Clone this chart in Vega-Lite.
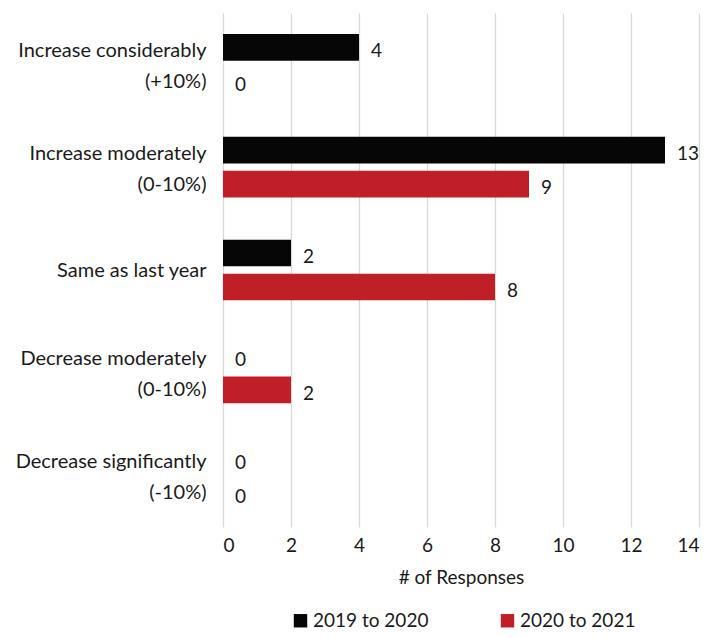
{
  "$schema": "https://vega.github.io/schema/vega-lite/v6.json",
  "width": 476,
  "height": 514,
  "autosize": {"type": "none"},
  "padding": {"left": 223, "top": 13, "right": 23, "bottom": 111},
  "config": {
    "view": {"stroke": null},
    "font": "Lato",
    "axis": {"labelFont": "Lato", "titleFont": "Lato", "labelColor": "#1a1a1a", "titleColor": "#1a1a1a"},
    "legend": {"labelFont": "Lato"}
  },
  "data": {
    "values": [
      {"category": "Increase considerably\n(+10%)", "period": "2019 to 2020", "count": 4},
      {"category": "Increase considerably\n(+10%)", "period": "2020 to 2021", "count": 0},
      {"category": "Increase moderately\n(0-10%)", "period": "2019 to 2020", "count": 13},
      {"category": "Increase moderately\n(0-10%)", "period": "2020 to 2021", "count": 9},
      {"category": "Same as last year", "period": "2019 to 2020", "count": 2},
      {"category": "Same as last year", "period": "2020 to 2021", "count": 8},
      {"category": "Decrease moderately\n(0-10%)", "period": "2019 to 2020", "count": 0},
      {"category": "Decrease moderately\n(0-10%)", "period": "2020 to 2021", "count": 2},
      {"category": "Decrease significantly\n(-10%)", "period": "2019 to 2020", "count": 0},
      {"category": "Decrease significantly\n(-10%)", "period": "2020 to 2021", "count": 0}
    ]
  },
  "encoding": {
    "y": {
      "field": "category",
      "type": "nominal",
      "sort": null,
      "scale": {"paddingInner": 0.41, "paddingOuter": 0.205},
      "axis": {
        "title": null,
        "domain": false,
        "ticks": false,
        "labelFontSize": 20,
        "labelPadding": 17,
        "labelLimit": 300,
        "labelLineHeight": 31,
        "labelOffset": {"condition": {"test": "indexof(datum.value, '\\n') >= 0", "value": -13.5}, "value": 1},
        "labelExpr": "split(datum.label, '\\n')"
      }
    },
    "yOffset": {
      "field": "period",
      "type": "nominal",
      "sort": ["2019 to 2020", "2020 to 2021"],
      "scale": {"paddingInner": 0.215, "paddingOuter": 0}
    },
    "x": {
      "field": "count",
      "type": "quantitative",
      "scale": {"domain": [0, 14], "nice": false},
      "axis": {
        "title": "# of Responses",
        "values": [0, 2, 4, 6, 8, 10, 12, 14],
        "domain": false,
        "ticks": false,
        "grid": true,
        "gridColor": "#d9d9d9",
        "gridWidth": 1.3,
        "labelFontSize": 19,
        "labelPadding": 9,
        "titleFontSize": 19,
        "titleFontWeight": "normal",
        "titlePadding": 13
      }
    }
  },
  "layer": [
    {
      "mark": {"type": "bar"},
      "encoding": {
        "color": {
          "field": "period",
          "type": "nominal",
          "scale": {"domain": ["2019 to 2020", "2020 to 2021"], "range": ["#060606", "#c01f27"]},
          "legend": {
            "title": null,
            "orient": "none",
            "direction": "horizontal",
            "legendX": 68,
            "legendY": 598,
            "symbolType": "square",
            "symbolSize": 180,
            "symbolStrokeWidth": 0,
            "labelFontSize": 19,
            "labelColor": "#1a1a1a",
            "labelLimit": 300,
            "columnPadding": 69,
            "labelOffset": 3
          }
        }
      }
    },
    {
      "mark": {"type": "text", "align": "left", "baseline": "middle", "dx": 12, "dy": 4, "fontSize": 19, "color": "#1a1a1a"},
      "encoding": {
        "text": {"field": "count", "type": "quantitative"}
      }
    }
  ]
}
